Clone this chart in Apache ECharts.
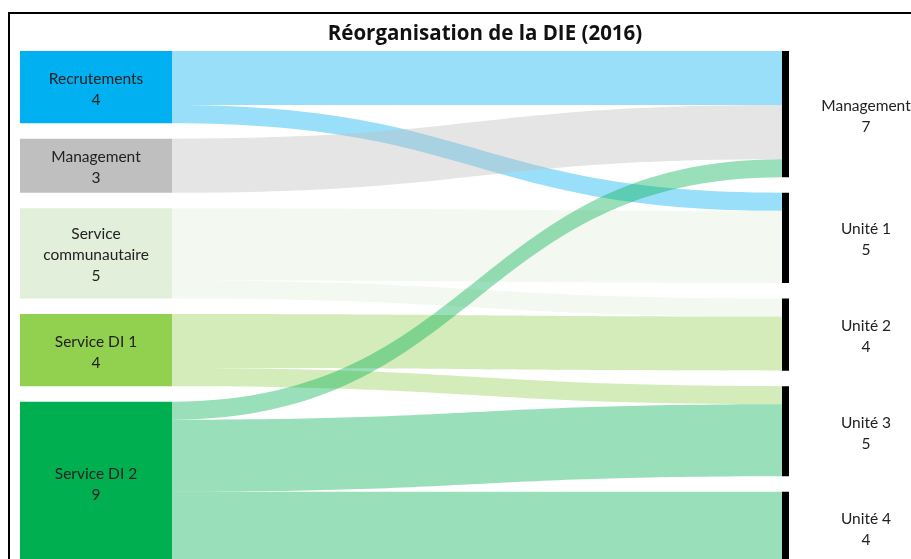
<!DOCTYPE html>
<html lang="fr">
<head>
  <meta charset="UTF-8">
  <title>Réorganisation de la DIE (2016)</title>
  <script src="https://cdn.jsdelivr.net/npm/echarts@6/dist/echarts.min.js"></script>
  <style>
    html, body { margin: 0; padding: 0; background: #fff; }
  </style>
</head>
<body>
  <div id="main" style="width: 911px;height:559px;"></div>

  <script type="text/javascript">
    // Avant / après
    let sources = ['Recrutements', 'Management', 'Service communautaire', 'Service DI 1', 'Service DI 2'];
    let sourceLabels = ['Recrutements', 'Management', 'Service\ncommunautaire', 'Service DI 1', 'Service DI 2'];
    let sourceColors = ['#00B0F0', '#BFBFBF', '#E2EFDA', '#92D050', '#00B050'];
    let targets = ['Management', 'Unité 1', 'Unité 2', 'Unité 3', 'Unité 4'];

    // flux : source -> cible
    let flowFrom = ['Recrutements', 'Recrutements', 'Management', 'Service communautaire', 'Service communautaire', 'Service DI 1', 'Service DI 1', 'Service DI 2', 'Service DI 2', 'Service DI 2'];
    let flowTo = ['Management', 'Unité 1', 'Management', 'Unité 1', 'Unité 2', 'Unité 2', 'Unité 3', 'Management', 'Unité 3', 'Unité 4'];
    let flowValue = [3, 1, 3, 4, 1, 3, 1, 1, 4, 4];

    let myChart = echarts.init(document.getElementById('main'));

    // totals for labels
    function total(list, name) {
      let s = 0;
      list.forEach((n, i) => { if (n === name) s += flowValue[i]; });
      return s;
    }

    let nodes = [];
    sources.forEach((name, i) => {
      nodes.push({
        name: 'avant:' + name,
        itemStyle: { color: sourceColors[i] },
        label: { formatter: sourceLabels[i] + '\n' + total(flowFrom, name) }
      });
    });
    // right side: only a thin black bar is visible at the start of the node
    targets.forEach((name) => {
      nodes.push({
        name: 'apres:' + name,
        itemStyle: {
          color: {
            type: 'linear', x: 0, y: 0, x2: 1, y2: 0,
            colorStops: [
              { offset: 0, color: '#000' },
              { offset: 0.045, color: '#000' },
              { offset: 0.046, color: 'rgba(255,255,255,0)' },
              { offset: 1, color: 'rgba(255,255,255,0)' }
            ]
          }
        },
        label: { formatter: name + '\n' + total(flowTo, name), offset: [8, 2] }
      });
    });

    let links = flowFrom.map((s, i) => ({
      source: 'avant:' + s,
      target: 'apres:' + flowTo[i],
      value: flowValue[i]
    }));

    let options = {
      title: {
        text: 'Réorganisation de la DIE (2016)',
        left: 480,
        textAlign: 'center',
        top: 19,
        textStyle: { fontFamily: 'Open Sans', fontSize: 20.5, fontWeight: 'bold', color: '#111' }
      },
      graphic: [{
        type: 'rect',
        shape: { x: 9, y: 13, width: 1000, height: 1000 },
        style: { fill: 'none', stroke: '#000', lineWidth: 2 },
        silent: true
      }],
      series: [{
        type: 'sankey',
        left: 20,
        top: 51,
        right: -23,
        bottom: -5,
        nodeWidth: 152,
        nodeGap: 15.5,
        layoutIterations: 0,
        draggable: false,
        data: nodes,
        links: links,
        emphasis: { disabled: true },
        label: {
          position: 'inside',
          align: 'center',
          fontFamily: 'Lato',
          fontSize: 15.5,
          lineHeight: 21,
          offset: [0, 2],
          color: '#222'
        },
        lineStyle: { color: 'source', opacity: 0.4, curveness: 0.5 }
      }]
    };

    myChart.setOption(options);
  </script>
</body>
</html>
